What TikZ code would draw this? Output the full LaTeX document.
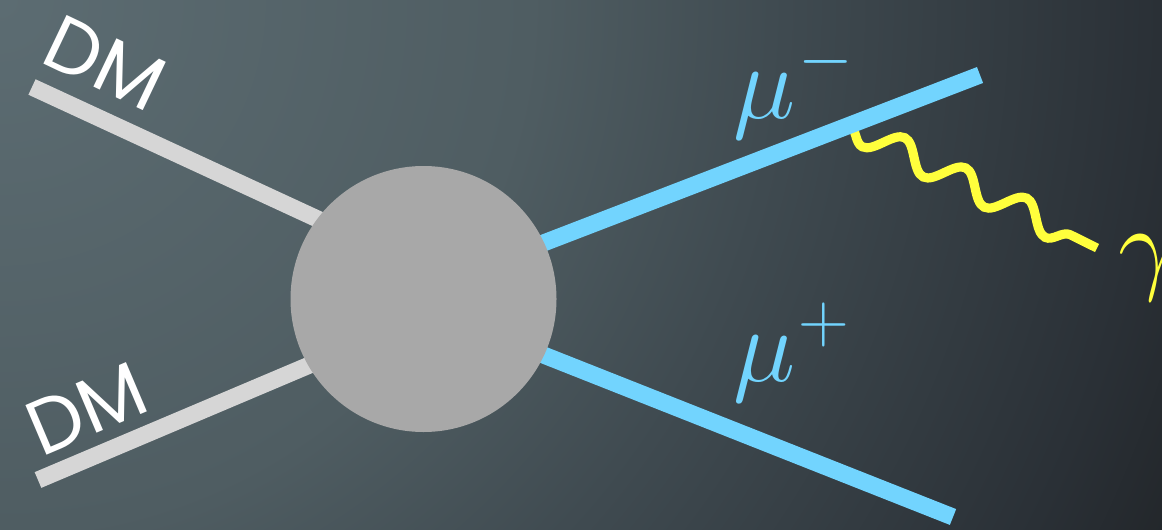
\documentclass[tikz,border=0pt]{standalone}
\usepackage{fix-cm}
\usepackage{fontspec}
\newfontfamily\dmfont{Poppins}
\DeclareMathSizes{60}{60}{40}{30}
\usetikzlibrary{calc, backgrounds, decorations.pathmorphing}

\definecolor{bgA}{HTML}{5C6C72}
\definecolor{bgB}{HTML}{4F5D62}
\definecolor{bgC}{HTML}{3F4A50}
\definecolor{bgD}{HTML}{2A3036}
\definecolor{bgE}{HTML}{23272B}
\definecolor{dmgray}{HTML}{D6D6D6}
\definecolor{muonblue}{HTML}{72D4FE}
\definecolor{photonyellow}{HTML}{FFFF3C}
\definecolor{blobgray}{HTML}{A8A8A8}

% the path's bounding box covers 0bp..25bp of a radial shading
\pgfdeclareradialshading{slidebg}{\pgfpointorigin}{color(0bp)=(bgA); color(10.2bp)=(bgB); color(15.1bp)=(bgC); color(22.3bp)=(bgD); color(24.6bp)=(bgE); color(50bp)=(bgE)}

\begin{document}
\begin{tikzpicture}[
    blob/.style={circle, fill=blobgray, minimum size=5.32cm, inner sep=0pt},
    dmline/.style={dmgray, line width=9.7pt, shorten >=-12pt},
    muline/.style={muonblue, line width=9.7pt, shorten <=-12pt},
    photon/.style={photonyellow, line width=5.2pt, decorate,
        decoration={snake, mirror, segment length=1.36cm, amplitude=0.27cm}},
    dmlabel/.style={text=white, font=\dmfont\fontsize{44}{44}\selectfont, anchor=base},
    mulabel/.style={text=muonblue, font=\fontsize{60}{60}\selectfont, anchor=base west, inner sep=0pt}
]
    \useasboundingbox (0,0) rectangle (23.24,10.58);
    \clip (0,0) rectangle (23.24,10.58);

    % slide background
    \begin{scope}[on background layer]
        \clip (0,0) rectangle (23.24,10.58);
        \shade[shading=slidebg] (0,10.58) circle (26);
    \end{scope}

    \node[blob] (blob) at (8.47,4.60) {};

    \coordinate (dmA) at (0.64,8.84);
    \coordinate (dmB) at (0.76,0.98);
    \coordinate (muM) at (19.60,9.08);
    \coordinate (muP) at (19.06,0.24);
    \coordinate (emit) at ($(blob.25.9)!0.7!(muM)$);
    \coordinate (gEnd) at (21.94,5.62);

    \begin{scope}[on background layer]
        \draw[photon] (emit) -- (gEnd);
        \draw[dmline] (dmA) -- (blob.143.7);
        \draw[dmline] (dmB) -- (blob.210.7);
        \draw[muline] (blob.25.9) -- (muM);
        \draw[muline] (blob.335.3) -- (muP);
    \end{scope}

    \node[dmlabel, rotate=-25.5] (dmTopLbl) at (1.87,8.83) {DM};
    \node[dmlabel, rotate=23] (dmBotLbl) at (1.94,1.91) {DM};
    \node[mulabel] (muMinusLbl) at (14.66,8.22) {$\mu^{\kern2pt-}$};
    \node[mulabel] (muPlusLbl) at (14.66,2.96) {$\mu^{\kern2pt+}$};
    \node[mulabel, text=photonyellow] (gammaLbl) at (22.36,4.98) {$\gamma$};
\end{tikzpicture}
\end{document}
